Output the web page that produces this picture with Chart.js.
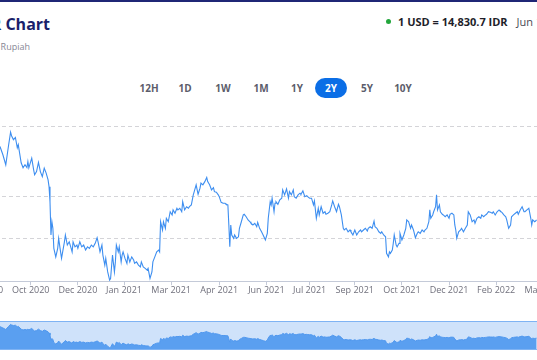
<!DOCTYPE html>
<html>
<head>
<meta charset="utf-8">
<script src="https://cdn.jsdelivr.net/npm/chart.js"></script>
<style>
  html, body { margin: 0; padding: 0; }
  body { width: 537px; height: 360px; overflow: hidden; position: relative; background: #fff; font-family: "Open Sans", sans-serif; }
  .topbar { position: absolute; left: 0; top: 0; width: 537px; height: 2px; background: #1f2676; }
  .title { position: absolute; right: 487px; top: 14px; white-space: nowrap; font-size: 16px; font-weight: 700; color: #1b1f6b; line-height: 20px; }
  .subtitle { position: absolute; right: 507px; top: 41px; white-space: nowrap; font-size: 9px; color: #888895; line-height: 12px; }
  .rate { position: absolute; left: 386px; top: 14px; white-space: nowrap; font-size: 11px; line-height: 16px; color: #1e1e2a; }
  .rate .dot { display: inline-block; width: 5px; height: 5px; border-radius: 50%; background: #22a63c; vertical-align: 2px; margin-right: 7px; }
  .rate b { font-weight: 700; }
  .rate span.when { color: #4a4a55; margin-left: 9px; }
  .ranges { position: absolute; top: 78px; left: 0; width: 537px; height: 20px; }
  .ranges div { position: absolute; top: 0; height: 20px; line-height: 20px; font-size: 10px; font-weight: 700; color: #5c5d6b; text-align: center; transform: translateX(-50%); }
  .ranges div.on { background: #0b6ee6; color: #fff; border-radius: 10px; width: 32px; }
  #main { position: absolute; left: -40px; top: 114px; }
  .nav { position: absolute; left: 0; top: 321px; width: 537px; height: 27px; background: #cfe2fa; border-top: 1px solid #7fb3f3; border-bottom: 1px solid #7fb3f3; }
  #navc { position: absolute; left: -40px; top: 322px; }
</style>
</head>
<body>
<div class="topbar"></div>
<div class="title">USD to IDR Chart</div>
<div class="subtitle">US Dollar to Indonesian Rupiah</div>
<div class="rate"><span class="dot"></span><b>1 USD = 14,830.7 IDR</b><span class="when">Jun 13, 2022, 10:38 UTC</span></div>
<div class="ranges" id="ranges"></div>
<canvas id="main" width="620" height="182"></canvas>
<div class="nav"></div>
<canvas id="navc" width="620" height="27"></canvas>
<script>
// range buttons
const rangeLabels = ['12H', '1D', '1W', '1M', '1Y', '2Y', '5Y', '10Y'];
const rangeCenters = [149, 185, 223, 261, 297, 331, 367, 403];
const activeRange = '2Y';

// days since start of the visible window, and the USD/IDR rate on that day
const days = [
  0,3,6,9,11,12,14,16,18,19,
  22,24,26,28,29,30,33,35,36,38,
  40,42,44,46,48,50,51,52,53,54,
  55,56,58,60,61,63,64,67,68,70,
  72,74,75,76,78,80,81,83,85,87,
  89,91,93,95,97,99,101,102,104,106,
  107,109,110,112,114,115,117,119,120,121,
  123,124,126,127,128,130,132,133,135,137,
  139,140,142,144,146,147,149,151,153,154,
  156,158,159,161,163,165,166,167,169,170,
  172,173,175,177,179,180,182,184,185,187,
  189,190,192,194,196,197,199,201,202,204,
  206,208,209,211,213,215,216,218,220,222,
  223,225,227,228,230,232,234,235,237,238,
  239,240,241,243,244,246,248,249,251,253,
  254,256,258,260,261,263,265,267,268,270,
  272,274,276,278,279,281,282,283,285,286,
  287,289,291,293,294,296,298,300,301,303,
  305,306,308,310,312,313,315,317,319,320,
  322,324,326,327,329,331,332,334,336,338,
  339,341,343,345,346,348,350,352,353,355,
  357,358,360,362,364,365,367,369,371,373,
  375,376,378,380,382,383,385,387,389,390,
  392,394,396,397,399,401,402,404,405,406,
  408,409,410,412,413,415,416,418,420,422,
  423,425,427,428,430,432,434,435,437,439,
  441,442,444,446,447,448,450,451,453,454,
  455,457,458,460,461,463,465,467,468,470,
  472,473,474,475,477,479,480,482,484,486,
  487,489,491,493,494,496,498,500,501,503,
  505,506,508,510,512,513,515,517,519,520,
  522,524,526,527,529,531,532,534,536,538,
  539,541,543,545,546,548,550,552,553,554,
  556,557,558
];
const rates = [
  14786,14732,14666,14798,14881,14857,14831,14846,14778,14798,
  14679,14646,14666,14648,14687,14646,14710,14633,14600,14621,
  14681,14621,14588,14644,14611,14567,14522,14423,14204,14291,
  14248,14116,14060,14116,14182,14093,14050,14159,14204,14138,
  14159,14116,14093,14159,14126,14138,14116,14159,14126,14138,
  14105,14126,14116,14138,14126,14149,14186,14159,14093,14138,
  14072,14006,14050,13961,13907,13918,14072,13961,14027,14138,
  14093,14126,14027,14072,14093,14050,14017,14072,14027,14060,
  14039,14017,14027,14006,13994,14027,13994,13984,13973,13984,
  13918,13961,14027,14060,14093,14105,14093,14291,14237,14291,
  14248,14314,14291,14357,14336,14369,14347,14380,14369,14380,
  14357,14423,14369,14390,14380,14390,14402,14468,14489,14534,
  14472,14512,14545,14534,14555,14582,14555,14534,14501,14516,
  14489,14485,14468,14456,14419,14413,14413,14406,14402,14270,
  14126,14270,14204,14182,14204,14182,14192,14248,14291,14336,
  14340,14324,14303,14291,14281,14270,14281,14258,14287,14248,
  14225,14199,14171,14215,14314,14423,14402,14446,14357,14413,
  14423,14406,14435,14446,14501,14468,14507,14446,14489,14468,
  14501,14456,14446,14468,14479,14472,14494,14456,14463,14456,
  14446,14446,14402,14428,14314,14380,14336,14390,14347,14357,
  14340,14347,14357,14402,14428,14390,14357,14406,14390,14336,
  14248,14237,14248,14225,14237,14225,14204,14237,14204,14225,
  14237,14225,14237,14248,14230,14248,14258,14248,14296,14258,
  14248,14225,14215,14225,14204,14192,14083,14060,14093,14083,
  14105,14149,14204,14138,14126,14149,14215,14171,14204,14248,
  14303,14291,14248,14270,14237,14186,14215,14225,14215,14237,
  14225,14237,14248,14291,14369,14314,14336,14357,14390,14468,
  14369,14402,14357,14340,14336,14324,14336,14314,14340,14347,
  14336,14270,14237,14182,14225,14237,14248,14225,14248,14270,
  14357,14336,14291,14303,14281,14314,14324,14314,14336,14324,
  14336,14340,14357,14353,14347,14357,14336,14357,14369,14362,
  14353,14336,14324,14303,14248,14270,14324,14336,14347,14357,
  14340,14369,14390,14357,14357,14369,14380,14314,14270,14303,
  14291,14296,14303
];

// x axis ticks (day position and label)
const tickDays = [-17, 32, 81, 129, 178, 228, 277, 322, 369, 418, 467, 516, 566];
const tickLabels = ['Aug 2020', 'Oct 2020', 'Dec 2020', 'Jan 2021', 'Mar 2021', 'Apr 2021', 'Jun 2021',
  'Jul 2021', 'Sep 2021', 'Oct 2021', 'Dec 2021', 'Feb 2022', 'Mar 2022'];
// horizontal grid lines
const gridRates = [14180, 14460, 14920];

const xMin = -41.6, xMax = 603.2;

const box = document.getElementById('ranges');
rangeLabels.forEach((t, i) => {
  const d = document.createElement('div');
  d.textContent = t;
  d.style.left = rangeCenters[i] + 'px';
  if (t === activeRange) d.className = 'on';
  box.appendChild(d);
});

const points = days.map((d, i) => ({ x: d, y: rates[i] }));

new Chart(document.getElementById('main'), {
  type: 'line',
  data: {
    datasets: [{
      data: points,
      borderColor: '#3d8ef0',
      borderWidth: 1.1,
      pointRadius: 0,
      tension: 0,
      fill: false
    }]
  },
  options: {
    responsive: false,
    animation: false,
    events: [],
    layout: { padding: 0 },
    plugins: { legend: { display: false }, tooltip: { enabled: false } },
    scales: {
      x: {
        type: 'linear',
        min: xMin,
        max: xMax,
        afterBuildTicks: s => { s.ticks = tickDays.map(v => ({ value: v })); },
        grid: { drawOnChartArea: false, drawTicks: true, tickLength: 4, color: '#c4cad8' },
        border: { display: true, color: '#c4cad8' },
        ticks: {
          autoSkip: false,
          maxRotation: 0,
          padding: 0,
          color: '#70707c',
          font: { family: 'Open Sans', size: 9 },
          callback: (v, i) => tickLabels[i]
        }
      },
      y: {
        min: 13900,
        max: 15000,
        afterBuildTicks: s => { s.ticks = gridRates.map(v => ({ value: v })); },
        afterFit: s => { s.width = 0; },
        ticks: { display: false },
        grid: { color: '#d4d4d8', drawTicks: false },
        border: { display: false, dash: [4, 3] }
      }
    }
  }
});

// navigator strip
new Chart(document.getElementById('navc'), {
  type: 'line',
  data: {
    datasets: [{
      data: points,
      borderColor: '#4f97ee',
      borderWidth: 1,
      backgroundColor: '#5a9ff0',
      fill: 'start',
      pointRadius: 0,
      tension: 0
    }]
  },
  options: {
    responsive: false,
    animation: false,
    events: [],
    layout: { padding: 0 },
    plugins: { legend: { display: false }, tooltip: { enabled: false } },
    scales: {
      x: { type: 'linear', display: false, min: xMin, max: xMax },
      y: { display: false, min: 13850, max: 14980 }
    }
  }
});
</script>
</body>
</html>
